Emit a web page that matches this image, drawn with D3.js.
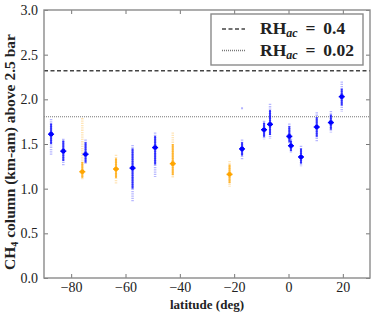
<!DOCTYPE html>
<html>
<head>
<meta charset="utf-8">
<script src="https://cdn.jsdelivr.net/npm/d3@7"></script>
<style>
  body { margin: 0; background: #fff; }
  text { font-family: "Liberation Serif", "DejaVu Serif", serif; fill: #222; }
  .axis path { display: none; }
  .axis line { stroke: #777; }
  .axis text { font-size: 14px; }
  .label { font-size: 13px; font-weight: bold; }
</style>
</head>
<body>
<div id="chart"></div>
<script>
const width = 374;
const height = 316;
const margins = { top: 10, bottom: 38, left: 44, right: 4 };

// latitude of each retrieval
const latitudes = [-87.4, -82.9, -75.9, -74.7, -63.5, -57.4, -49.1, -42.6, -21.7,
  -17.1, -9.0, -6.8, 0.3, 0.9, 4.6, 10.4, 15.6, 19.6];
// best-fit CH4 column
const columns = [1.61, 1.42, 1.19, 1.385, 1.22, 1.23, 1.46, 1.28, 1.16,
  1.445, 1.66, 1.72, 1.585, 1.48, 1.355, 1.69, 1.74, 2.03];
// dense part of the sample distribution
const errLow = [1.50, 1.31, 1.12, 1.29, 1.12, 1.00, 1.27, 1.15, 1.06,
  1.37, 1.58, 1.60, 1.52, 1.42, 1.28, 1.58, 1.66, 1.93];
const errHigh = [1.73, 1.54, 1.30, 1.52, 1.34, 1.45, 1.59, 1.50, 1.27,
  1.52, 1.74, 1.88, 1.70, 1.54, 1.45, 1.80, 1.83, 2.12];
// full spread of the samples
const cloudLow = [1.38, 1.26, 1.10, 1.27, 1.05, 0.86, 1.13, 1.12, 1.02,
  1.33, 1.55, 1.56, 1.50, 1.40, 1.245, 1.525, 1.63, 1.86];
const cloudHigh = [1.78, 1.56, 1.79, 1.55, 1.38, 1.49, 1.63, 1.63, 1.31,
  1.55, 1.76, 1.95, 1.73, 1.56, 1.48, 1.855, 1.87, 2.20];
// which set the point belongs to
const groups = ["b", "b", "o", "b", "o", "b", "b", "o", "o",
  "b", "b", "b", "b", "b", "b", "b", "b", "b"];
// lone outlying samples
const outlierLat = [-17.1];
const outlierValue = [1.90];

// saturation reference levels
const refNames = ["0.4", "0.02"];
const refValues = [2.32, 1.805];
const refDash = ["4,2.5", "1,1"];

const xTicks = [-80, -60, -40, -20, 0, 20];
const yTicks = [0, 0.5, 1, 1.5, 2, 2.5, 3];

const colors = { b: "#0000ff", o: "#ffa500" };

const points = latitudes.map((lat, i) => ({
  lat: lat,
  value: columns[i],
  lo: errLow[i],
  hi: errHigh[i],
  cLo: cloudLow[i],
  cHi: cloudHigh[i],
  group: groups[i],
}));

const xScale = d3.scaleLinear().domain([-90, 30]).range([margins.left, width - margins.right]);
const yScale = d3.scaleLinear().domain([0, 3]).range([height - margins.bottom, margins.top]);

const svg = d3
  .select("#chart")
  .append("svg")
  .attr("width", width)
  .attr("height", height);

// AXES (ticks point inward on all four sides)
svg
  .append("g")
  .attr("class", "axis")
  .attr("transform", `translate(${margins.left},0)`)
  .call(d3.axisLeft(yScale).tickValues(yTicks).tickFormat(d3.format(".1f")).tickSize(-4).tickPadding(6));
svg
  .append("g")
  .attr("class", "axis")
  .attr("transform", `translate(${width - margins.right},0)`)
  .call(d3.axisRight(yScale).tickValues(yTicks).tickFormat("").tickSize(-4));
svg
  .append("g")
  .attr("class", "axis")
  .attr("transform", `translate(0,${height - margins.bottom})`)
  .call(d3.axisBottom(xScale).tickValues(xTicks).tickSize(-4).tickPadding(4));
svg
  .append("g")
  .attr("class", "axis")
  .attr("transform", `translate(0,${margins.top})`)
  .call(d3.axisTop(xScale).tickValues(xTicks).tickFormat("").tickSize(-4));

// REFERENCE LINES
svg
  .selectAll("line.ref")
  .data(refValues)
  .enter()
  .append("line")
  .attr("class", "ref")
  .attr("x1", margins.left)
  .attr("x2", width - margins.right)
  .attr("y1", (d) => yScale(d))
  .attr("y2", (d) => yScale(d))
  .attr("stroke", (d, i) => (i === 0 ? "#444" : "#777"))
  .attr("stroke-width", (d, i) => (i === 0 ? 1.3 : 1.2))
  .attr("stroke-dasharray", (d, i) => refDash[i]);

// SAMPLE CLOUDS
const plot = svg.append("g");
plot
  .selectAll("line.cloud")
  .data(points)
  .enter()
  .append("line")
  .attr("class", "cloud")
  .attr("x1", (d) => xScale(d.lat))
  .attr("x2", (d) => xScale(d.lat))
  .attr("y1", (d) => yScale(d.cHi))
  .attr("y2", (d) => yScale(d.cLo))
  .attr("stroke", (d) => colors[d.group])
  .attr("stroke-width", 2.5)
  .attr("stroke-dasharray", "1.3,1")
  .attr("opacity", 0.28);

plot
  .selectAll("rect.outlier")
  .data(outlierLat)
  .enter()
  .append("rect")
  .attr("class", "outlier")
  .attr("x", (d) => xScale(d) - 1)
  .attr("y", (d, i) => yScale(outlierValue[i]) - 1)
  .attr("width", 2)
  .attr("height", 2)
  .attr("fill", colors.b)
  .attr("opacity", 0.3);

plot
  .selectAll("line.err")
  .data(points)
  .enter()
  .append("line")
  .attr("class", "err")
  .attr("x1", (d) => xScale(d.lat))
  .attr("x2", (d) => xScale(d.lat))
  .attr("y1", (d) => yScale(d.hi))
  .attr("y2", (d) => yScale(d.lo))
  .attr("stroke", (d) => colors[d.group])
  .attr("stroke-width", 2)
  .attr("opacity", 0.75);

plot
  .selectAll("line.cap")
  .data(points)
  .enter()
  .append("line")
  .attr("class", "cap")
  .attr("x1", (d) => xScale(d.lat) - 3)
  .attr("x2", (d) => xScale(d.lat) + 3)
  .attr("y1", (d) => yScale(d.value))
  .attr("y2", (d) => yScale(d.value))
  .attr("stroke", (d) => colors[d.group])
  .attr("stroke-width", 1.5);

plot
  .selectAll("circle.mark")
  .data(points)
  .enter()
  .append("circle")
  .attr("class", "mark")
  .attr("cx", (d) => xScale(d.lat))
  .attr("cy", (d) => yScale(d.value))
  .attr("r", 2.3)
  .attr("fill", (d) => colors[d.group]);

// FRAME
svg
  .append("rect")
  .attr("x", margins.left)
  .attr("y", margins.top)
  .attr("width", width - margins.left - margins.right)
  .attr("height", height - margins.top - margins.bottom)
  .attr("fill", "none")
  .attr("stroke", "#8a8a8a")
  .attr("stroke-width", 1.4);

// LEGEND
const legend = svg.append("g");
legend
  .append("rect")
  .attr("x", 211)
  .attr("y", 14)
  .attr("width", 152)
  .attr("height", 51)
  .attr("fill", "#fff")
  .attr("stroke", "#8a8a8a")
  .attr("stroke-width", 1.4);

const entries = legend
  .selectAll("g.entry")
  .data(refNames)
  .enter()
  .append("g")
  .attr("class", "entry")
  .attr("transform", (d, i) => `translate(222,${29 + i * 21.5})`);

entries
  .append("line")
  .attr("x1", 0)
  .attr("x2", 23)
  .attr("stroke", (d, i) => (i === 0 ? "#444" : "#777"))
  .attr("stroke-width", 1.3)
  .attr("stroke-dasharray", (d, i) => refDash[i]);

const entryText = entries
  .append("text")
  .attr("x", 38)
  .attr("y", 5)
  .style("font-size", "17.5px")
  .style("font-weight", "bold");
entryText.append("tspan").text("RH");
entryText
  .append("tspan")
  .attr("dy", 3)
  .style("font-size", "12px")
  .style("font-style", "italic")
  .text("ac");
entryText
  .append("tspan")
  .attr("dy", -3)
  .attr("xml:space", "preserve")
  .text((d) => ` \u2009=\u2009 ${d}`);

// AXIS LABELS
svg
  .append("text")
  .attr("class", "label")
  .attr("x", 207)
  .attr("y", 308.5)
  .attr("text-anchor", "middle")
  .text("latitude (deg)");

const yLabel = svg
  .append("text")
  .attr("class", "label")
  .style("font-size", "15.5px")
  .attr("transform", `translate(15,152) rotate(-90)`)
  .attr("text-anchor", "middle");
yLabel.append("tspan").text("CH");
yLabel.append("tspan").attr("dy", 3).style("font-size", "10px").text("4");
yLabel.append("tspan").attr("dy", -3).text(" column (km-am) above 2.5 bar");
</script>
</body>
</html>
